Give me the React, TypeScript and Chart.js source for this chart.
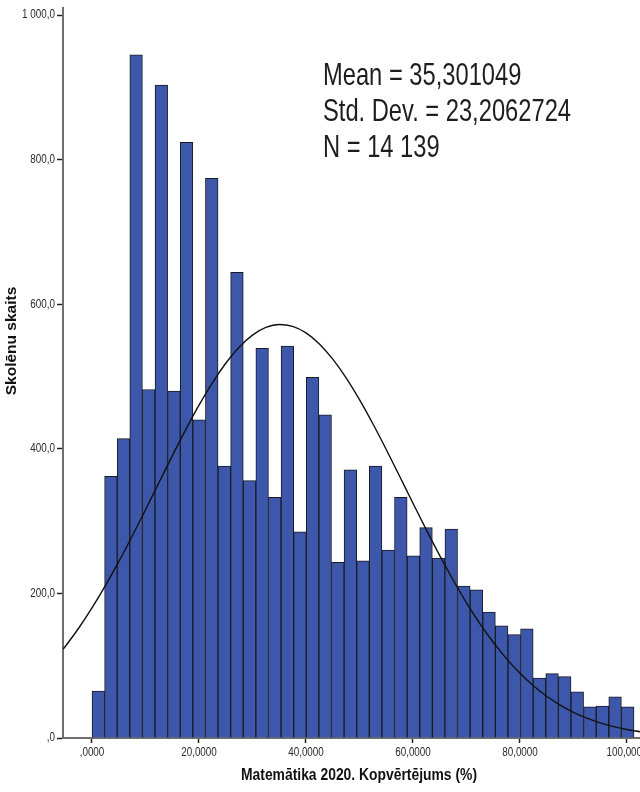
import React, { useEffect, useRef } from "react";
import { Chart, registerables } from "chart.js";

Chart.register(...registerables);

// ---- Data ----
const binStart = 0;
const binWidth = 2.356;
const binCounts = [
  65, 362, 414, 945, 482, 903, 480, 824, 440, 774,
  376, 644, 356, 539, 333, 542, 285, 499, 447, 243,
  371, 245, 376, 260, 333, 252, 291, 249, 289, 210,
  205, 174, 155, 143, 151, 83, 89, 85, 64, 43,
  44, 57, 43,
];

// Normal curve as drawn in the reference (value at each x position)
const curveX = [
  -5.4, -5, -2.5, 0, 2.5, 5, 7.5, 10, 12.5, 15, 17.5, 20, 22.5, 25, 27.5, 30,
  32.5, 35, 37.5, 40, 42.5, 45, 47.5, 50, 52.5, 55, 57.5, 60, 62.5, 65, 67.5,
  70, 72.5, 75, 77.5, 80, 82.5, 85, 87.5, 90, 92.5, 95, 97.5, 100, 102.5,
];
const curveY = [
  122.9, 126.6, 151.8, 179.9, 210.7, 243.9, 279.1, 315.7, 353.0, 390.2, 426.2,
  460.3, 491.3, 518.3, 540.6, 557.3, 567.9, 572.0, 569.4, 560.4, 545.1, 524.1,
  498.2, 468.0, 434.6, 399.0, 362.0, 324.7, 287.8, 252.2, 218.5, 187.0, 158.3,
  132.4, 109.5, 89.5, 72.3, 57.7, 45.6, 35.6, 27.4, 20.9, 15.8, 11.7, 8.6,
];

const xTickValues = [0, 20, 40, 60, 80, 100];
const xTickLabels = [",0000", "20,0000", "40,0000", "60,0000", "80,0000", "100,0000"];
const yTickValues = [0, 200, 400, 600, 800, 1000];
const yTickLabels = [",0", "200,0", "400,0", "600,0", "800,0", "1 000,0"];

const statsLines = ["Mean = 35,301049", "Std. Dev. = 23,2062724", "N = 14 139"];
const xTitle = "Matemātika 2020. Kopvērtējums (%)";
const yTitle = "Skolēnu skaits";

// ---- Styles ----
const W = 640;
const H = 792;
const SANS = '"Liberation Sans", Arial, Helvetica, sans-serif';
const TICK_SQUEEZE = 0.79;

const textPlugin = {
  id: "texts",
  afterDraw(chart: any) {
    const ctx: CanvasRenderingContext2D = chart.ctx;
    const xs = chart.scales.x;
    const ys = chart.scales.y;
    ctx.save();

    // tick labels (condensed)
    ctx.fillStyle = "#2b2b2b";
    ctx.font = `12.5px ${SANS}`;
    ctx.textBaseline = "middle";
    xTickValues.forEach((v, i) => {
      const px = xs.getPixelForValue(v);
      ctx.save();
      ctx.translate(px, 753);
      ctx.scale(TICK_SQUEEZE, 1);
      ctx.textAlign = "center";
      ctx.fillText(xTickLabels[i], 0, 0);
      ctx.restore();
    });
    yTickValues.forEach((v, i) => {
      const py = ys.getPixelForValue(v);
      ctx.save();
      ctx.translate(55, py);
      ctx.scale(TICK_SQUEEZE, 1);
      ctx.textAlign = "right";
      ctx.fillText(yTickLabels[i], 0, 0);
      ctx.restore();
    });

    // stats box text (condensed)
    ctx.fillStyle = "#1e1e1e";
    ctx.font = `32px ${SANS}`;
    ctx.textBaseline = "alphabetic";
    ctx.textAlign = "left";
    const refW = ctx.measureText(statsLines[1]).width;
    const sx = 248 / refW;
    statsLines.forEach((line, i) => {
      ctx.save();
      ctx.translate(323, 85 + i * 36);
      ctx.scale(sx, 1);
      ctx.fillText(line, 0, 0);
      ctx.restore();
    });

    // x-axis title
    ctx.save();
    ctx.font = `bold 16px ${SANS}`;
    const tw = ctx.measureText(xTitle).width;
    ctx.translate(359, 776);
    ctx.scale(236 / tw, 1);
    ctx.fillStyle = "#111";
    ctx.textAlign = "center";
    ctx.textBaseline = "middle";
    ctx.fillText(xTitle, 0, 0);
    ctx.restore();

    // y-axis title
    ctx.save();
    ctx.translate(16, 341);
    ctx.rotate(-Math.PI / 2);
    ctx.font = `bold 15.5px ${SANS}`;
    ctx.fillStyle = "#111";
    ctx.textAlign = "center";
    ctx.textBaseline = "alphabetic";
    ctx.fillText(yTitle, 0, 0);
    ctx.restore();

    ctx.restore();
  },
};

export default function App() {
  const ref = useRef<HTMLCanvasElement | null>(null);

  useEffect(() => {
    document.body.style.margin = "0";
    const canvas = ref.current;
    if (!canvas) return;

    const barData = binCounts.map((c, i) => ({
      x: binStart + binWidth * (i + 0.5),
      y: c,
    }));
    const lineData = curveX.map((x, i) => ({ x, y: curveY[i] }));

    const chart = new Chart(canvas, {
      type: "bar",
      data: {
        datasets: [
          {
            type: "line",
            data: lineData,
            borderColor: "#111111",
            borderWidth: 1.4,
            pointRadius: 0,
            fill: false,
            cubicInterpolationMode: "monotone",
            order: 1,
          } as any,
          {
            type: "bar",
            data: barData,
            backgroundColor: "#3D58AA",
            borderColor: "#1a1a24",
            borderWidth: 1,
            borderSkipped: "bottom",
            barPercentage: 1,
            categoryPercentage: 1,
            order: 2,
          } as any,
        ],
      },
      options: {
        responsive: false,
        maintainAspectRatio: false,
        animation: false,
        devicePixelRatio: 1,
        layout: {
          autoPadding: false,
          padding: { top: 8, left: 0, right: 0, bottom: 0 },
        } as any,
        plugins: {
          legend: { display: false },
          tooltip: { enabled: false },
        },
        scales: {
          x: {
            type: "linear",
            min: -5.42,
            max: 102.43,
            offset: false,
            afterBuildTicks: (s: any) => {
              s.ticks = xTickValues.map((v) => ({ value: v }));
            },
            afterFit: (s: any) => {
              s.height = 54;
              s.paddingLeft = 0;
              s.paddingRight = 0;
            },
            ticks: { display: false, autoSkip: false, maxRotation: 0 },
            grid: {
              offset: false,
              drawOnChartArea: false,
              drawTicks: true,
              tickLength: 5,
              tickColor: "#222",
              tickWidth: 1.5,
            } as any,
            border: { display: true, color: "#6e6e6e", width: 2 },
            title: { display: false },
          },
          y: {
            type: "linear",
            min: 0,
            max: 1009.7,
            afterBuildTicks: (s: any) => {
              s.ticks = yTickValues.map((v) => ({ value: v }));
            },
            afterFit: (s: any) => {
              s.width = 63;
              s.paddingTop = 0;
              s.paddingBottom = 0;
            },
            ticks: { display: false, autoSkip: false },
            grid: {
              drawOnChartArea: false,
              drawTicks: true,
              tickLength: 6,
              tickColor: "#222",
              tickWidth: 1.5,
            } as any,
            border: { display: true, color: "#6e6e6e", width: 2 },
            title: { display: false },
          },
        },
      },
      plugins: [textPlugin as any],
    });

    return () => {
      chart.destroy();
    };
  }, []);

  return (
    <canvas
      ref={ref}
      width={W}
      height={H}
      style={{ display: "block", width: W + "px", height: H + "px" }}
    />
  );
}
